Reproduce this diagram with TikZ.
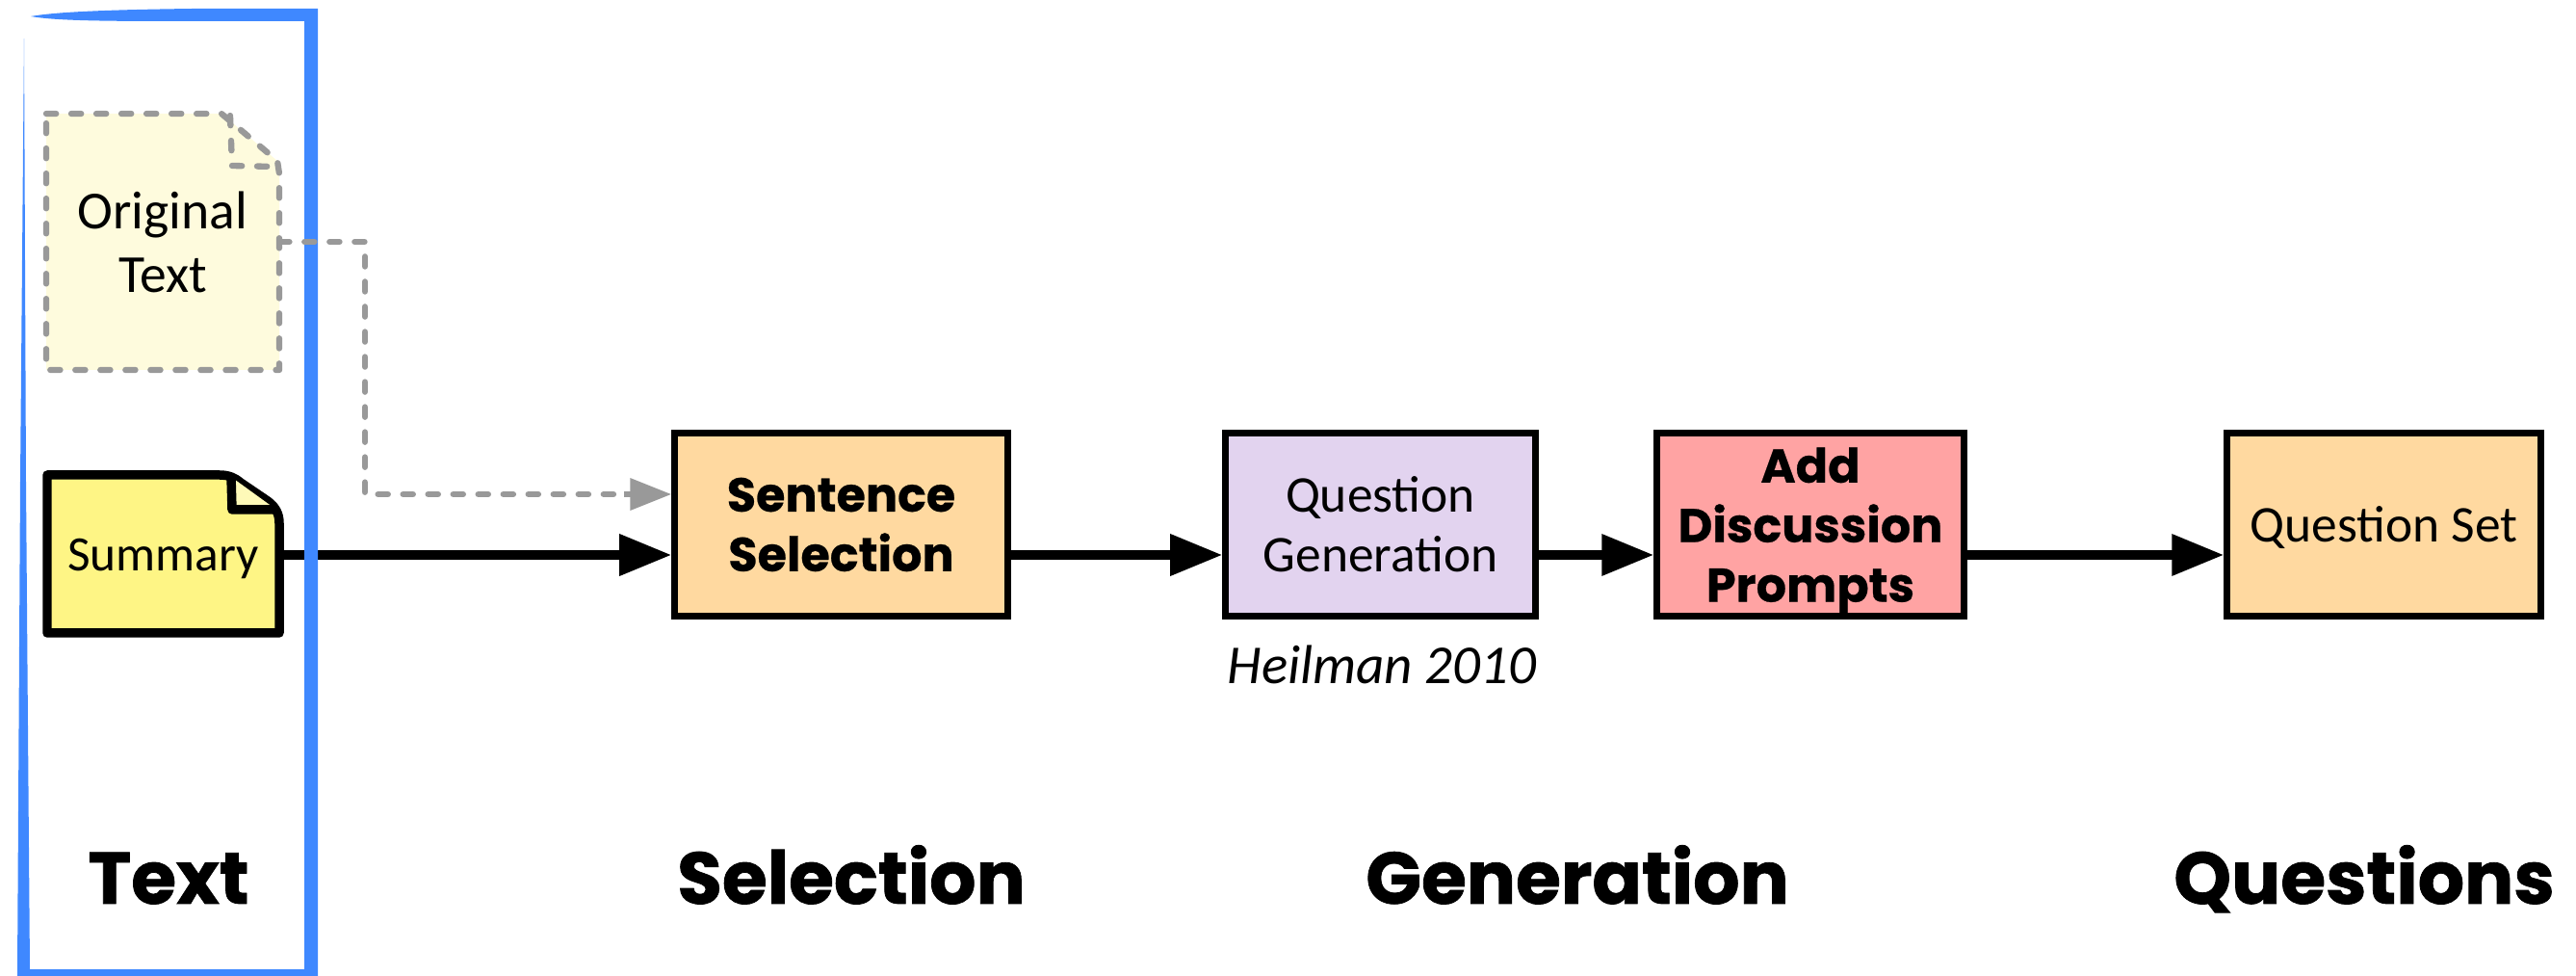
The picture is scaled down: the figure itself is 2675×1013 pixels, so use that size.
\documentclass[tikz,border=0pt]{standalone}
\usepackage{fontspec}
\setmainfont{Carlito}
\newfontfamily\heavyfont[BoldFont={Poppins Bold},BoldFeatures={FakeBold=1}]{Poppins}
\newfontfamily\boldfont[BoldFont={Poppins Bold},BoldFeatures={FakeBold=.5}]{Poppins}
\usetikzlibrary{arrows.meta}
\definecolor{framefill}{HTML}{3F88FF}
\definecolor{origfill}{HTML}{FEFBDD}
\definecolor{sumfill}{HTML}{FEF585}
\definecolor{foldfill}{HTML}{FEF9B8}
\definecolor{orangefill}{HTML}{FFD9A0}
\definecolor{purplefill}{HTML}{E2D3EF}
\definecolor{redfill}{HTML}{FFA3A3}
\definecolor{greyline}{HTML}{999999}
\tikzset{
  stagebox/.style={draw=black,line width=2pt,inner sep=0pt,minimum height=1.89cm,align=center,font=\fontsize{15.2}{17.6}\selectfont},
  boldbox/.style={stagebox,font=\fontsize{14}{17.6}\selectfont\boldfont\bfseries},
  stagelabel/.style={anchor=base,inner sep=0pt,font=\fontsize{21.6}{24}\selectfont\heavyfont\bfseries},
  docnode/.style={inner sep=0pt,minimum width=2.41cm,align=center},
  flowline/.style={line width=2.7pt,black,-{Triangle[length=15.4pt,width=11.7pt]}},
  dashline/.style={line width=1.8pt,greyline,line cap=round,dash pattern=on 2.9pt off 4.5pt},
}
\begin{document}
\begin{tikzpicture}[x=.01cm,y=-.01cm]
    \useasboundingbox (0,0) rectangle (2675,1013);
    %the two documents
    \draw[dashline,fill=origfill,line join=round] (48,118) -- (230,118) -- (288,167) -- (290,180) -- (290,384) -- (48,384) -- cycle;
    \draw[dashline] (239,120) -- (241,172) -- (286,173);
    \draw[line width=2.7pt,fill=sumfill,line join=round] (49,493) -- (228,493) .. controls (238,493) and (244,496) .. (250,501) -- (278,520) .. controls (286,526) and (290,533) .. (290,543) -- (290,657) -- (49,657) -- cycle;
    \draw[line width=2.7pt,fill=foldfill,line join=round] (240,495) -- (241,529) -- (287,529);
    \node[docnode,minimum height=2.66cm,font=\fontsize{15.8}{18.8}\selectfont] (original) at (169,251) {Original\\Text};
    \node[docnode,minimum height=1.64cm,text depth=0pt,font=\fontsize{14.6}{18}\selectfont] (summary) at (169.5,576) {Summary};
    %stages
    \node[boldbox,fill=orangefill,minimum width=3.45cm] (selection) at (873.5,544.5) {Sentence\\Selection};
    \node[stagebox,fill=purplefill,minimum width=3.21cm] (generation) at (1433.5,544.5) {Question\\Generation};
    \node[boldbox,fill=redfill,text depth=0pt,minimum width=3.18cm] (prompts) at (1880,544.5) {Add\\Discussion\\Prompts};
    \node[stagebox,fill=orangefill,text depth=0pt,minimum width=3.25cm] (questionset) at (2475.5,544.5) {Question Set};
    \node[anchor=base,inner sep=0pt,font=\fontsize{16.2}{18}\selectfont\itshape] (heilman) at (1435,710) {Heilman 2010};
    %connectors
    \draw[flowline] (summary.east) -- (selection.west |- summary.east);
    \draw[flowline] (selection.east |- summary.east) -- (generation.west |- summary.east);
    \draw[flowline] (generation.east |- summary.east) -- (prompts.west |- summary.east);
    \draw[flowline] (prompts.east |- summary.east) -- (questionset.west |- summary.east);
    %frame goes over the black line and under the dashed one
    \fill[framefill] (32,17) .. controls (60,12) and (120,10) .. (200,9) -- (330,9) -- (330,1013) -- (18,1013) -- (21,500) -- (25,40) -- (27,500) -- (31,1006) -- (316,1006) -- (316,22) -- (200,22) .. controls (120,22) and (60,22) .. (32,17) -- cycle;
    \coordinate (dashbend) at (379,251);
    \coordinate (dashcorner) at (379,513);
    \coordinate (dashend) at (selection.west |- dashcorner);
    \draw[dashline] (original.east) -- (dashbend) -- (dashcorner) -- ([xshift=-1.4em]dashend);
    \draw[line width=1.8pt,greyline,-{Triangle[length=12.2pt,width=9.1pt]}] ([xshift=-1.4em]dashend) -- (dashend);
    %column titles
    \node[stagelabel] (textlabel) at (175,938) {Text};
    \node[stagelabel] (selectionlabel) at (884,938) {Selection};
    \node[stagelabel] (generationlabel) at (1638,938) {Generation};
    \node[stagelabel] (questionslabel) at (2455,938) {Questions};
\end{tikzpicture}
\end{document}
